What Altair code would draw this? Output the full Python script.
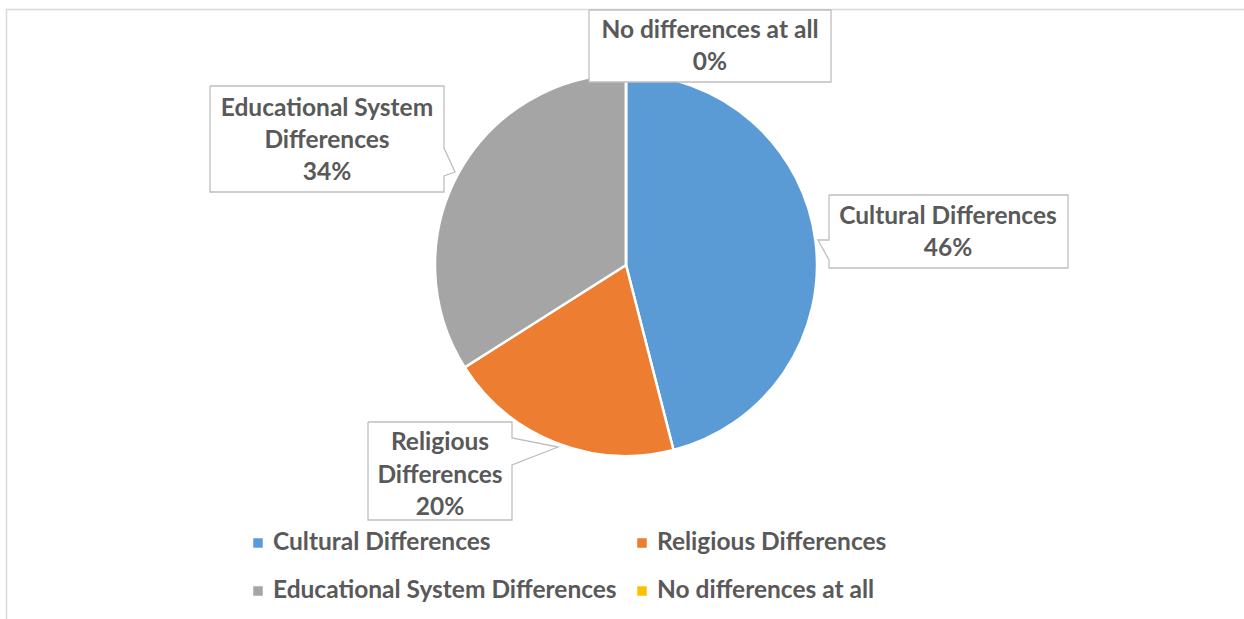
import altair as alt
import pandas as pd

# ---- data ----
categories = ["Cultural Differences", "Religious Differences",
              "Educational System Differences", "No differences at all"]
values = [46, 20, 34, 0]
colors = ["#5B9BD5", "#ED7D31", "#A5A5A5", "#FFC000"]

W, H = 1244, 619
TEXT = "#595959"
BORDER = "#BFBFBF"
FONT = "Lato"
FS = 24.5

xs = alt.Scale(domain=[0, W], range=[0, W])
ys = alt.Scale(domain=[0, H], range=[0, H])

def X(f):
    return alt.X(f, type="quantitative", scale=xs, axis=None)

def Y(f):
    return alt.Y(f, type="quantitative", scale=ys, axis=None)

# ---- pie ----
pie_df = pd.DataFrame({"cat": categories, "val": values, "idx": range(len(categories))})
pie = alt.Chart(pie_df).mark_arc(outerRadius=191, stroke="white", strokeWidth=2.5).encode(
    theta=alt.Theta("val:Q", stack=True),
    order=alt.Order("idx:Q"),
    color=alt.Color("cat:N", scale=alt.Scale(domain=categories, range=colors), legend=None),
    x=alt.value(626), y=alt.value(265),
)

# ---- callout layout (positions only) ----
layout = {
    "No differences at all": dict(box=(589, 10, 831, 82), ptr=None, side=None,
                                  cx=710, lines_y=[31, 63], lines=["No differences at all"]),
    "Educational System Differences": dict(box=(210, 86, 444, 192), side="right",
                                           ptr=[(444, 148), (455, 172), (444, 176)],
                                           cx=327, lines_y=[109, 141, 173],
                                           lines=["Educational System", "Differences"]),
    "Cultural Differences": dict(box=(829, 195, 1068, 268), side="left",
                                 ptr=[(829, 260), (818, 240), (829, 240)],
                                 cx=948, lines_y=[217, 249], lines=["Cultural Differences"]),
    "Religious Differences": dict(box=(368, 422, 512, 520), side="right",
                                  ptr=[(512, 438), (558, 447), (512, 465)],
                                  cx=440, lines_y=[443, 476, 508],
                                  lines=["Religious", "Differences"]),
}

rects, outline, texts = [], [], []
for cat, val in zip(categories, values):
    L = layout[cat]
    x0, y0, x1, y1 = L["box"]
    rects.append(dict(k=cat, x0=x0, y0=y0, x1=x1, y1=y1))
    pts = [(x0, y0), (x1, y0)]
    if L["side"] == "right":
        pts += L["ptr"]
    pts += [(x1, y1), (x0, y1)]
    if L["side"] == "left":
        pts += L["ptr"]
    pts += [(x0, y0)]
    for i, (px, py) in enumerate(pts):
        outline.append(dict(k=cat, o=i, x=px, y=py))
    lines = L["lines"] + [f"{val}%"]
    for ly, t in zip(L["lines_y"], lines):
        texts.append(dict(x=L["cx"], y=ly, t=t))

rect_layer = alt.Chart(pd.DataFrame(rects)).mark_rect(fill="white", stroke=None).encode(
    x=X("x0"), x2="x1", y=Y("y0"), y2="y1")
outline_layer = alt.Chart(pd.DataFrame(outline)).mark_line(
    color=BORDER, strokeWidth=1.3, interpolate="linear").encode(
    x=X("x"), y=Y("y"), order="o:Q", detail="k:N")
text_layer = alt.Chart(pd.DataFrame(texts)).mark_text(
    font=FONT, fontWeight="bold", fontSize=FS, color=TEXT, align="center", baseline="middle").encode(
    x=X("x"), y=Y("y"), text="t:N")

# ---- legend (manual) ----
leg_x_marker = [258, 642, 258, 642]
leg_y = [543, 543, 591, 591]
leg_df = pd.DataFrame({"cat": categories, "mx": leg_x_marker, "tx": [m + 15 for m in leg_x_marker], "y": leg_y})
leg_sq = alt.Chart(leg_df).mark_square(size=90, opacity=1).encode(
    x=X("mx"), y=Y("y"),
    color=alt.Color("cat:N", scale=alt.Scale(domain=categories, range=colors), legend=None))
leg_txt = alt.Chart(leg_df).mark_text(
    font=FONT, fontWeight="bold", fontSize=FS, color=TEXT, align="left", baseline="middle").encode(
    x=X("tx"), y=Y("y"), text="cat:N")

# ---- outer frame (left and top edges visible) ----
frame_df = pd.DataFrame({"x": [6.5, 6.5, W + 5], "y": [H + 5, 9.5, 9.5], "o": [0, 1, 2]})
frame = alt.Chart(frame_df).mark_line(color="#D9D9D9", strokeWidth=1.5).encode(
    x=X("x"), y=Y("y"), order="o:Q")

chart = alt.layer(frame, pie, rect_layer, outline_layer, text_layer, leg_sq, leg_txt).properties(
    width=W, height=H, padding=0, autosize="none", background="white"
).configure_view(stroke=None)

chart.save("out.html", embed_options={"renderer": "svg", "actions": False})
